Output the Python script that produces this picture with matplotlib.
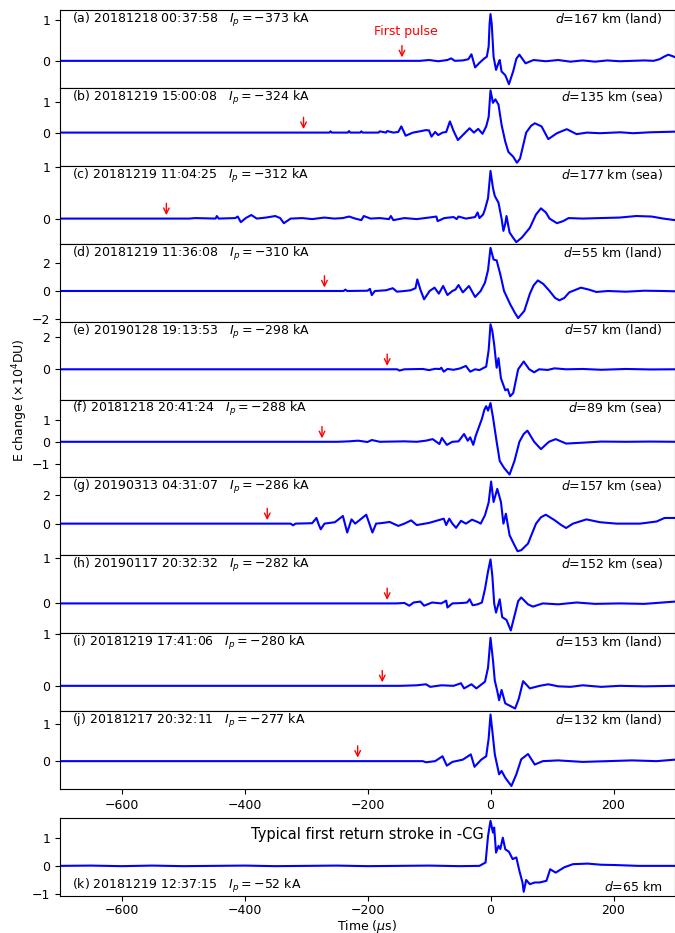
import matplotlib.pyplot as plt

# stroke info, one entry per stacked panel (a)-(j)
panel_tags = ['(a) 20181218 00:37:58', '(b) 20181219 15:00:08', '(c) 20181219 11:04:25',
              '(d) 20181219 11:36:08', '(e) 20190128 19:13:53', '(f) 20181218 20:41:24',
              '(g) 20190313 04:31:07', '(h) 20190117 20:32:32', '(i) 20181219 17:41:06',
              '(j) 20181217 20:32:11']
peak_currents = [-373, -324, -312, -310, -298, -288, -286, -282, -280, -277]
distances = ['167 km (land)', '135 km (sea)', '177 km (sea)', '55 km (land)', '57 km (land)',
             '89 km (sea)', '157 km (sea)', '152 km (sea)', '153 km (land)', '132 km (land)']
first_pulse = [-144, -304, -527, -270, -168, -274, -363, -168, -176, -216]
y_limits = [(-0.66, 1.24), (-1.07, 1.44), (-0.49, 1.03), (-2.2, 3.4), (-1.9, 3.0),
            (-1.6, 1.9), (-2.24, 3.27), (-0.65, 1.05), (-0.49, 1.02), (-0.74, 1.33)]
y_ticks = [[0, 1], [0, 1], [0, 1], [-2, 0, 2], [0, 2], [-1, 0, 1], [0, 2], [0, 1], [0, 1], [0, 1]]

# waveforms: (time in us, E change in 1e4 DU)
wave_a = [(-700, 0), (-115, 0), (-100, 0.02), (-85, -0.01), (-70, 0.02), (-64, 0.06), (-58, 0.0),
          (-45, 0.01), (-36, 0.04), (-31, 0.16), (-25, -0.16), (-18, -0.05), (-10, 0.06), (-6, 0.1),
          (-3, 0.35), (-1.5, 0.9), (0, 1.14), (2, 0.9), (5, 0.1), (9, -0.22), (13, -0.05), (15, 0.02),
          (18, -0.26), (24, -0.35), (30, -0.57), (37, -0.25), (42, 0.05), (47, 0.15), (57, -0.06),
          (70, 0.02), (90, -0.01), (110, 0.02), (130, -0.02), (150, 0.01), (170, -0.02), (190, 0.01),
          (210, -0.01), (230, 0.0), (250, 0.01), (265, 0.0), (275, 0.04), (282, 0.1), (289, 0.15),
          (295, 0.12), (300, 0.09)]
wave_b = [(-700, 0), (-300, 0), (-262, 0), (-260, 0.04), (-258, 0), (-232, 0), (-230, 0.05), (-228, 0),
          (-212, 0), (-210, 0.04), (-208, 0), (-182, 0), (-180, 0.04), (-170, 0), (-168, 0.05), (-158, 0),
          (-150, 0.02), (-145, 0.2), (-138, -0.1), (-126, 0.0), (-115, 0.04), (-105, 0.08), (-100, 0.07),
          (-96, -0.13), (-90, 0.02), (-85, -0.08), (-78, 0.0), (-72, 0.02), (-66, 0.36), (-60, 0.05),
          (-53, -0.24), (-42, -0.02), (-34, 0.14), (-27, 0.0), (-20, 0.12), (-13, -0.04), (-7, 0.2),
          (-3, 0.5), (0, 1.36), (4, 0.96), (8, 1.07), (13, 0.9), (18, 0.25), (24, -0.29), (29, -0.62),
          (37, -0.78), (43, -0.97), (48, -0.84), (58, 0.0), (66, 0.22), (72, 0.30), (83, 0.2),
          (94, -0.21), (108, -0.02), (124, 0.11), (140, -0.05), (157, 0.0), (178, -0.02), (211, 0.01),
          (232, -0.02), (260, 0.01), (300, 0.03)]
wave_c = [(-700, 0), (-490, 0), (-480, 0.01), (-447, 0), (-445, 0.05), (-442, 0), (-415, 0.01),
          (-411, 0.04), (-406, -0.07), (-398, 0.01), (-389, 0.07), (-380, 0.0), (-365, 0.02),
          (-350, 0.05), (-342, 0.01), (-336, -0.09), (-325, 0.0), (-306, 0.01), (-290, -0.01),
          (-270, 0.02), (-254, 0.0), (-240, 0.01), (-230, 0.04), (-220, 0.0), (-210, -0.03),
          (-206, 0.05), (-195, 0.0), (-180, 0.01), (-165, -0.01), (-162, 0.05), (-158, -0.03),
          (-140, 0.01), (-120, -0.01), (-100, 0.02), (-88, 0.04), (-86, -0.05), (-75, 0.01),
          (-60, 0.03), (-55, -0.01), (-52, 0.04), (-40, 0.0), (-30, 0.02), (-25, 0.03), (-21, 0.12),
          (-18, 0.01), (-12, 0.08), (-9, 0.18), (-4, 0.4), (0, 0.93), (4, 0.6), (7, 0.44), (13, 0.31),
          (18, 0.0), (21, -0.24), (24, -0.1), (26, 0.05), (31, -0.27), (36, -0.36), (42, -0.46),
          (51, -0.37), (64, -0.18), (74, 0.08), (82, 0.2), (90, 0.12), (96, 0.0), (108, -0.09),
          (118, -0.05), (127, 0.01), (150, 0.0), (178, 0.01), (210, 0.02), (237, 0.05), (262, 0.04),
          (281, 0.0), (300, -0.03)]
wave_d = [(-700, 0), (-239, 0), (-236, 0.1), (-233, 0), (-200, 0.02), (-196, 0.15), (-193, -0.3),
          (-188, 0.0), (-170, 0.05), (-159, 0.2), (-152, -0.05), (-140, 0.0), (-130, 0.05), (-122, 0.2),
          (-119, 0.83), (-114, 0.1), (-108, -0.6), (-99, 0.0), (-91, 0.24), (-84, -0.19), (-77, 0.36),
          (-70, -0.29), (-62, 0.0), (-57, 0.1), (-52, 0.43), (-45, -0.1), (-35, 0.36), (-25, -0.43),
          (-16, 0.0), (-9, 0.6), (-4, 1.5), (0, 3.1), (5, 2.26), (10, 2.2), (16, 1.19), (22, 0.0),
          (32, -0.95), (40, -1.6), (45, -1.95), (55, -1.43), (64, -0.2), (70, 0.4), (77, 0.76),
          (86, 0.5), (96, 0.0), (105, -0.5), (112, -0.67), (120, -0.5), (128, -0.1), (147, 0.24),
          (160, 0.1), (172, -0.07), (191, 0.0), (220, -0.05), (250, 0.02), (280, 0.0), (300, -0.02)]
wave_e = [(-700, 0), (-152, 0), (-148, -0.08), (-140, 0.0), (-110, 0.02), (-100, -0.05), (-90, 0.03),
          (-82, 0.02), (-80, 0.1), (-76, -0.15), (-70, 0.02), (-60, -0.03), (-50, 0.05), (-40, 0.21),
          (-33, -0.15), (-25, 0.0), (-18, -0.05), (-7, 0.17), (-3, 1.2), (0, 2.83), (3, 2.4), (6, 1.55),
          (10, 0.1), (13, 0.7), (17, -0.57), (24, -1.32), (28, -1.25), (32, -1.7), (37, -1.49),
          (45, 0.0), (54, 0.49), (63, 0.0), (71, -0.19), (79, 0.0), (93, -0.04), (104, 0.06),
          (123, 0.0), (150, 0.02), (180, -0.03), (220, 0.02), (260, -0.01), (300, 0.0)]
wave_f = [(-700, 0), (-249, 0), (-230, 0.02), (-215, 0.05), (-200, -0.01), (-193, 0.08), (-180, 0.0),
          (-160, 0.01), (-140, 0.02), (-120, 0.0), (-105, 0.05), (-94, 0.12), (-83, -0.1), (-79, 0.17),
          (-71, -0.14), (-62, 0.0), (-52, 0.02), (-43, 0.35), (-37, 0.05), (-33, 0.2), (-28, -0.14),
          (-24, 0.27), (-19, 0.65), (-14, 1.03), (-10, 1.44), (-7, 1.6), (-4, 1.4), (0, 1.74), (4, 1.11),
          (10, 0.0), (15, -0.86), (22, -1.17), (31, -1.47), (39, -0.86), (47, 0.0), (54, 0.35),
          (60, 0.5), (71, 0.0), (82, -0.33), (95, 0.0), (106, 0.12), (123, -0.08), (150, -0.04),
          (180, 0.01), (220, 0.0), (260, 0.01), (300, 0.0)]
wave_g = [(-700, 0), (-325, 0), (-321, -0.12), (-317, 0.0), (-290, 0.03), (-283, 0.4), (-279, -0.1),
          (-276, -0.4), (-270, 0.0), (-253, 0.1), (-240, 0.54), (-233, -0.63), (-226, 0.3), (-220, 0.0),
          (-202, 0.63), (-192, -0.63), (-186, 0.0), (-175, 0.05), (-164, 0.12), (-150, -0.16),
          (-140, 0.0), (-129, 0.23), (-120, -0.1), (-100, 0.05), (-76, 0.35), (-72, -0.1), (-67, 0.35),
          (-62, 0.0), (-56, -0.3), (-48, 0.2), (-40, 0.0), (-30, 0.28), (-20, 0.1), (-16, 0.0),
          (-9, 0.59), (-3, 1.5), (1, 2.98), (5, 1.53), (11, 2.46), (17, 1.53), (21, 0.0), (25, 0.7),
          (31, -0.82), (39, -1.53), (44, -1.95), (50, -1.88), (61, -1.41), (74, 0.0), (82, 0.45),
          (90, 0.63), (104, 0.25), (115, -0.1), (123, -0.31), (134, 0.0), (156, 0.3), (178, 0.1),
          (205, 0.0), (243, 0.0), (270, 0.15), (283, 0.4), (300, 0.4)]
wave_h = [(-700, 0), (-153, 0), (-140, 0.01), (-132, -0.05), (-125, 0.02), (-114, 0.04), (-108, -0.05),
          (-95, 0.02), (-80, 0.0), (-72, 0.06), (-70, -0.09), (-62, 0.0), (-45, 0.01), (-38, 0.02),
          (-34, 0.09), (-29, -0.04), (-21, -0.02), (-14, 0.02), (-9, 0.31), (-4, 0.7), (0, 0.96),
          (3, 0.6), (6, 0.0), (9, -0.2), (15, 0.09), (19, -0.3), (26, -0.36), (33, -0.59), (39, -0.27),
          (45, 0.05), (50, 0.13), (61, -0.02), (69, -0.07), (85, 0.0), (110, -0.02), (140, 0.02),
          (170, -0.01), (210, 0.0), (250, -0.01), (300, 0.04)]
wave_i = [(-700, 0), (-146, 0), (-120, 0.01), (-105, 0.03), (-98, -0.02), (-80, 0.01), (-60, 0.0),
          (-48, 0.05), (-43, -0.05), (-31, 0.03), (-23, -0.05), (-9, 0.08), (-4, 0.35), (0, 0.93),
          (4, 0.5), (7, 0.1), (11, -0.1), (14, -0.28), (18, -0.08), (24, -0.34), (32, -0.39),
          (40, -0.44), (46, -0.25), (53, 0.09), (64, -0.05), (80, 0.0), (94, 0.03), (110, -0.01),
          (130, -0.02), (150, 0.01), (180, -0.02), (210, 0.0), (250, -0.01), (300, 0.0)]
wave_j = [(-700, 0), (-146, 0), (-110, 0.0), (-105, -0.03), (-90, 0.0), (-78, 0.13), (-71, -0.12),
          (-62, -0.02), (-45, 0.04), (-32, 0.18), (-26, -0.15), (-15, 0.04), (-7, 0.13), (-3, 0.6),
          (0, 1.24), (3, 0.8), (7, 0.18), (14, -0.35), (18, -0.26), (24, -0.44), (34, -0.66),
          (42, -0.35), (50, 0.05), (61, 0.19), (72, -0.09), (85, 0.0), (110, 0.02), (150, -0.02),
          (190, 0.0), (230, 0.02), (270, 0.0), (300, 0.04)]
waves = [wave_a, wave_b, wave_c, wave_d, wave_e, wave_f, wave_g, wave_h, wave_i, wave_j]

# typical -CG first return stroke (k)
wave_k = [(-700, 0), (-650, 0.01), (-600, -0.01), (-550, 0.01), (-500, -0.01), (-450, 0.0),
          (-400, 0.01), (-350, -0.01), (-300, 0.0), (-250, 0.01), (-200, -0.01), (-150, 0.0),
          (-100, 0.01), (-50, -0.01), (-18, 0.0), (-8, 0.12), (-4, 1.06), (0, 1.6), (4, 1.18),
          (6, 1.36), (9, 0.47), (13, 0.71), (16, 0.6), (20, 1.0), (24, 0.59), (30, 0.5), (36, 0.24),
          (42, 0.3), (47, -0.18), (52, -0.59), (54, -0.92), (58, -0.5), (64, -0.65), (72, -0.59),
          (80, -0.59), (91, -0.53), (97, -0.12), (106, -0.24), (120, -0.05), (134, 0.06), (158, 0.08),
          (180, 0.04), (202, 0.03), (240, 0.0), (300, 0.0)]
k_ylim = (-1.07, 1.7)
k_ticks = [-1, 0, 1]

x_limits = (-700, 300)
x_ticks = [-600, -400, -200, 0, 200]

fig = plt.figure(figsize=(6.75, 9.33), dpi=100)
W, H = 675.0, 933.0
left, width = 60 / W, 615 / W
panel_h = 77.9 / H
top = 1 - 10 / H

axes = []
for i in range(10):
    ax = fig.add_axes([left, top - (i + 1) * panel_h, width, panel_h],
                      sharex=axes[0] if axes else None)
    axes.append(ax)
    t, e = zip(*waves[i])
    ax.plot(t, e, color='blue', lw=1.5)
    ax.set_xlim(*x_limits)
    ax.set_ylim(*y_limits[i])
    ax.set_yticks(y_ticks[i])
    ax.set_xticks(x_ticks)
    ax.tick_params(labelsize=9)
    if i < 9:
        ax.tick_params(labelbottom=False)
    ax.text(0.02, 0.835, f'{panel_tags[i]}   $I_p=-{abs(peak_currents[i])}$ kA',
            transform=ax.transAxes, ha='left', va='baseline', fontsize=9)
    ax.text(0.98, 0.835, f'$d$={distances[i]}', transform=ax.transAxes,
            ha='right', va='baseline', fontsize=9)
    ax.annotate('', xy=(first_pulse[i], 0), xycoords='data',
                xytext=(0, 11), textcoords='offset points',
                arrowprops=dict(arrowstyle='->', color='red', lw=1.0, shrinkA=0, shrinkB=2.5))
    if i == 0:
        ax.annotate('First pulse', xy=(first_pulse[i], 0), xycoords='data',
                    xytext=(3, 21), textcoords='offset points', ha='center', va='center',
                    color='red', fontsize=9)

fig.text(0.03, 1 - 400 / H, 'E change ($\\times10^4$DU)', rotation=90,
         ha='center', va='center', fontsize=9)

# separate panel for the typical stroke
axk = fig.add_axes([left, 1 - 896 / H, width, 78 / H])
t, e = zip(*wave_k)
axk.plot(t, e, color='blue', lw=1.5)
axk.set_xlim(*x_limits)
axk.set_ylim(*k_ylim)
axk.set_yticks(k_ticks)
axk.set_xticks(x_ticks)
axk.tick_params(labelsize=9)
axk.tick_params(axis='x', pad=2)
axk.text(0.5, 0.73, 'Typical first return stroke in -CG', transform=axk.transAxes,
         ha='center', va='baseline', fontsize=10.5)
axk.text(0.02, 0.09, '(k) 20181219 12:37:15   $I_p=-52$ kA', transform=axk.transAxes,
         ha='left', va='baseline', fontsize=9)
axk.text(0.98, 0.065, '$d$=65 km', transform=axk.transAxes, ha='right', va='baseline', fontsize=9)
axk.set_xlabel('Time ($\\mu$s)', fontsize=9)
axk.xaxis.set_label_coords(0.5, -0.385)
axk.xaxis.label.set_va('center')

plt.savefig('out.png', dpi=100)
